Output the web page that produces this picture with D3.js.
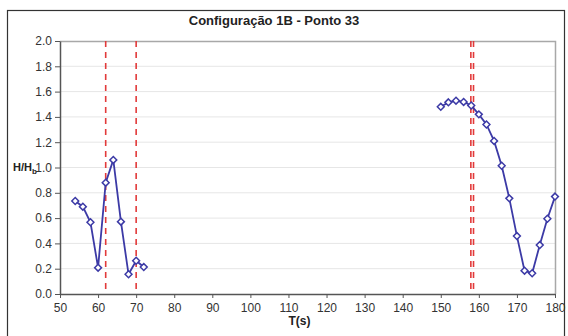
<!DOCTYPE html>
<html>
<head>
<meta charset="utf-8">
<script src="https://cdn.jsdelivr.net/npm/d3@7"></script>
<style>
  body { margin: 0; background: #fff; }
  svg { font-family: Arial, "Liberation Sans", sans-serif; }
</style>
</head>
<body>
<svg id="chart"></svg>
<script>
// readings
const tA = [54, 56, 58, 60, 62, 64, 66, 68, 70, 72];
const hA = [0.735, 0.69, 0.567, 0.208, 0.88, 1.06, 0.572, 0.156, 0.263, 0.213];
const tB = [150, 152, 154, 156, 158, 160, 162, 164, 166, 168, 170, 172, 174, 176, 178, 180];
const hB = [1.48, 1.515, 1.528, 1.518, 1.49, 1.42, 1.34, 1.21, 1.014, 0.756, 0.458, 0.184, 0.164, 0.387, 0.595, 0.77];
const markerT = [62, 70, 157.9, 158.6];
const xTicks = d3.range(50, 181, 10);
const yTicks = d3.range(0, 2.01, 0.2);

const W = 568, H = 336;
const margin = {top: 41, right: 13, bottom: 42, left: 60};
const width = W - margin.left - margin.right;
const height = H - margin.top - margin.bottom;

const svg = d3.select('#chart').attr('width', W).attr('height', H);

// outer frame
svg.append('rect')
    .attr('x', 7.5).attr('y', 10.5)
    .attr('width', 557).attr('height', 340)
    .attr('fill', '#fff').attr('stroke', '#333').attr('stroke-width', 1.2);

const chart = svg.append('g')
    .attr('transform', `translate(${margin.left},${margin.top})`);

const xScale = d3.scaleLinear().domain([50, 180]).range([0, width]);
const yScale = d3.scaleLinear().domain([0, 2]).range([height, 0]);

// grid
chart.selectAll('.grid')
    .data(yTicks.slice(1, -1))
    .enter().append('line')
    .attr('x1', 0).attr('x2', width)
    .attr('y1', d => yScale(d)).attr('y2', d => yScale(d))
    .attr('stroke', '#e6e6e6').attr('stroke-width', 1);

// plot border top/right
chart.append('path')
    .attr('d', `M0,0.5H${width + 0.5}V${height}`)
    .attr('fill', 'none').attr('stroke', '#a8a8a8').attr('stroke-width', 1.5);

// axes
const xAxis = d3.axisBottom(xScale).tickValues(xTicks).tickSize(4).tickSizeOuter(0).tickPadding(5);
const yAxis = d3.axisLeft(yScale).tickValues(yTicks).tickSize(5).tickSizeOuter(0)
    .tickFormat(d3.format('.1f')).tickPadding(3);

const xAxisG = chart.append('g').attr('transform', `translate(0,${height})`).call(xAxis);
const yAxisG = chart.append('g').call(yAxis);
[xAxisG, yAxisG].forEach(g => {
    g.select('.domain').attr('stroke', '#555').attr('stroke-width', 1.5);
    g.selectAll('.tick line').attr('stroke', '#555');
    g.selectAll('.tick text').attr('fill', '#333').attr('font-size', 12);
});

// red dashed markers
chart.selectAll('.mark')
    .data(markerT)
    .enter().append('line')
    .attr('x1', d => xScale(d)).attr('x2', d => xScale(d))
    .attr('y1', 0).attr('y2', height)
    .attr('stroke', '#e23a3a').attr('stroke-width', 1.6)
    .attr('stroke-dasharray', '6,5');

// series
const line = d3.line().x(d => xScale(d[0])).y(d => yScale(d[1]));
const diamond = d3.symbol().type(d3.symbolDiamond2).size(30);

[[tA, hA], [tB, hB]].forEach(([ts, hs]) => {
    const pts = ts.map((t, i) => [t, hs[i]]);
    chart.append('path')
        .datum(pts)
        .attr('d', line)
        .attr('fill', 'none').attr('stroke', '#3c3aa6').attr('stroke-width', 1.8);
    chart.selectAll(null)
        .data(pts)
        .enter().append('path')
        .attr('d', diamond)
        .attr('transform', d => `translate(${xScale(d[0])},${yScale(d[1])})`)
        .attr('fill', '#fff').attr('stroke', '#3c3aa6').attr('stroke-width', 1.5);
});

// title and labels
svg.append('text')
    .attr('x', 274).attr('y', 25)
    .attr('text-anchor', 'middle')
    .attr('font-size', 13).attr('font-weight', 'bold').attr('fill', '#222')
    .text('Configuração 1B - Ponto 33');

svg.append('text')
    .attr('x', margin.left + width / 2 - 8).attr('y', 325)
    .attr('text-anchor', 'middle')
    .attr('font-size', 12).attr('font-weight', 'bold').attr('fill', '#222')
    .text('T(s)');

const yl = svg.append('text')
    .attr('x', 13).attr('y', 171)
    .attr('font-size', 11).attr('font-weight', 'bold').attr('fill', '#222');
yl.append('tspan').text('H/H');
yl.append('tspan').attr('font-size', 8).attr('dy', 3).text('b');
</script>
</body>
</html>
